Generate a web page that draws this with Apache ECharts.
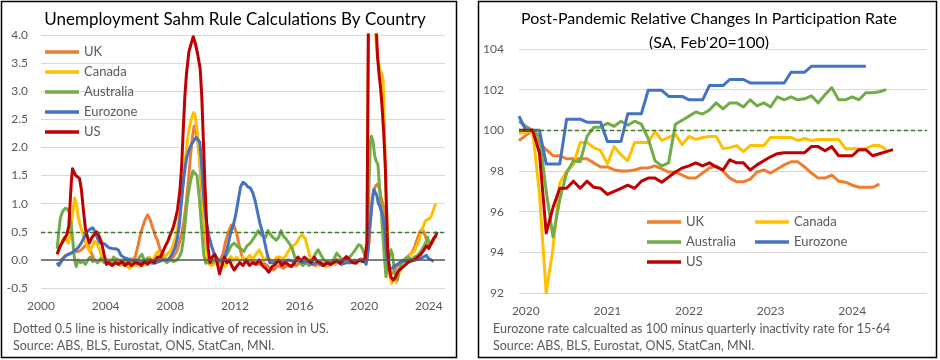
<!DOCTYPE html>
<html><head><meta charset="utf-8">
<script src="https://cdn.jsdelivr.net/npm/echarts@6/dist/echarts.min.js"></script>
<style>html,body{margin:0;padding:0;background:#fff}#c{width:940px;height:360px}</style>
</head><body><div id="c"></div>
<script>
// ---------- Left panel: Sahm rule values, [decimal year, value] ----------
const sahmUK = [[2001.0,-0.05],[2001.15,-0.08],[2001.3,0.02],[2001.5,0.07],[2001.7,0.1],[2001.9,0.12],[2002.1,0.15],[2002.3,0.15],[2002.5,0.18],[2002.7,0.24],[2002.85,0.3],[2003.0,0.2],[2003.15,0.1],[2003.3,0.0],[2003.5,-0.05],[2003.7,0.0],[2003.9,-0.03],[2004.1,-0.05],[2004.3,0.0],[2004.5,-0.05],[2004.7,0.02],[2004.9,-0.05],[2005.1,0.0],[2005.3,-0.03],[2005.5,0.02],[2005.7,0.0],[2005.85,0.07],[2006.0,0.25],[2006.15,0.45],[2006.3,0.6],[2006.45,0.72],[2006.6,0.8],[2006.75,0.72],[2006.9,0.58],[2007.05,0.45],[2007.2,0.35],[2007.35,0.2],[2007.5,0.08],[2007.65,0.03],[2007.8,0.0],[2008.0,0.0],[2008.2,0.06],[2008.4,0.15],[2008.55,0.3],[2008.7,0.45],[2008.85,0.7],[2009.0,1.05],[2009.12,1.4],[2009.25,1.85],[2009.38,2.2],[2009.48,2.38],[2009.58,2.3],[2009.7,2.1],[2009.8,1.85],[2009.9,1.4],[2010.0,1.0],[2010.1,0.65],[2010.2,0.3],[2010.35,0.05],[2010.5,-0.05],[2010.7,-0.02],[2010.9,0.0],[2011.1,0.0],[2011.25,0.1],[2011.4,0.3],[2011.6,0.5],[2011.78,0.62],[2011.95,0.6],[2012.1,0.48],[2012.25,0.28],[2012.4,0.1],[2012.55,0.0],[2012.75,-0.05],[2013.0,0.0],[2013.25,-0.05],[2013.5,-0.08],[2013.75,-0.05],[2014.0,-0.1],[2014.2,-0.15],[2014.4,-0.18],[2014.6,-0.12],[2014.8,-0.1],[2015.0,-0.15],[2015.2,-0.1],[2015.4,-0.12],[2015.6,-0.08],[2015.8,-0.1],[2016.0,-0.05],[2016.2,-0.08],[2016.4,-0.03],[2016.6,-0.05],[2016.8,-0.08],[2017.0,-0.1],[2017.2,-0.05],[2017.4,-0.1],[2017.6,-0.08],[2017.8,-0.05],[2018.0,-0.08],[2018.2,-0.03],[2018.4,-0.05],[2018.6,-0.02],[2018.8,-0.05],[2019.0,0.0],[2019.2,-0.03],[2019.4,0.0],[2019.6,-0.02],[2019.8,0.02],[2020.0,0.0],[2020.15,-0.02],[2020.3,0.3],[2020.4,0.75],[2020.5,1.1],[2020.6,1.25],[2020.72,1.32],[2020.85,1.35],[2020.95,1.25],[2021.05,1.1],[2021.15,1.0],[2021.25,0.9],[2021.33,0.55],[2021.42,0.15],[2021.5,-0.08],[2021.6,-0.18],[2021.75,-0.24],[2021.9,-0.18],[2022.05,-0.1],[2022.25,-0.02],[2022.45,0.0],[2022.65,0.05],[2022.85,0.1],[2023.0,0.15],[2023.15,0.25],[2023.3,0.38],[2023.45,0.5],[2023.6,0.55],[2023.75,0.45],[2023.9,0.32],[2024.05,0.25],[2024.2,0.3],[2024.33,0.38]];
const sahmCanada = [[2001.0,0.1],[2001.15,0.22],[2001.3,0.33],[2001.45,0.4],[2001.6,0.35],[2001.7,0.3],[2001.8,0.45],[2001.9,0.7],[2002.0,0.92],[2002.08,1.1],[2002.18,1.02],[2002.28,0.8],[2002.42,0.62],[2002.55,0.5],[2002.7,0.36],[2002.85,0.24],[2003.0,0.15],[2003.15,0.22],[2003.3,0.33],[2003.45,0.3],[2003.6,0.2],[2003.75,0.07],[2003.9,0.0],[2004.1,-0.05],[2004.3,0.0],[2004.5,-0.08],[2004.7,-0.03],[2004.9,-0.1],[2005.1,-0.05],[2005.3,-0.1],[2005.5,-0.15],[2005.7,-0.08],[2005.9,-0.1],[2006.1,-0.05],[2006.3,-0.1],[2006.5,-0.05],[2006.7,0.05],[2006.9,-0.03],[2007.1,0.1],[2007.25,0.15],[2007.4,0.05],[2007.55,0.1],[2007.7,0.05],[2007.85,0.12],[2008.0,0.15],[2008.15,0.25],[2008.3,0.38],[2008.45,0.55],[2008.6,0.85],[2008.75,1.25],[2008.9,1.7],[2009.05,2.1],[2009.2,2.38],[2009.35,2.55],[2009.45,2.62],[2009.55,2.55],[2009.65,2.32],[2009.8,1.85],[2009.95,1.35],[2010.05,0.9],[2010.2,0.45],[2010.3,0.05],[2010.4,-0.08],[2010.6,-0.1],[2010.8,-0.05],[2011.0,-0.1],[2011.2,-0.05],[2011.4,-0.12],[2011.6,0.0],[2011.75,0.06],[2011.9,-0.02],[2012.1,0.05],[2012.3,-0.05],[2012.5,0.05],[2012.7,0.0],[2012.9,0.08],[2013.1,0.02],[2013.3,0.1],[2013.5,0.18],[2013.65,0.1],[2013.8,-0.02],[2014.0,0.05],[2014.2,0.0],[2014.4,-0.03],[2014.6,0.05],[2014.8,0.05],[2015.0,0.02],[2015.2,0.1],[2015.4,0.2],[2015.6,0.25],[2015.8,0.3],[2015.95,0.38],[2016.15,0.45],[2016.35,0.38],[2016.5,0.22],[2016.65,0.05],[2016.8,-0.08],[2017.0,-0.02],[2017.2,-0.1],[2017.4,-0.05],[2017.6,-0.12],[2017.8,-0.1],[2018.0,-0.05],[2018.2,-0.08],[2018.4,-0.02],[2018.6,-0.08],[2018.8,-0.03],[2019.0,-0.05],[2019.2,0.0],[2019.4,-0.05],[2019.6,-0.03],[2019.8,0.0],[2020.0,-0.03],[2020.1,0.05],[2020.17,0.5],[2020.25,3.3],[2020.33,5.9],[2020.42,7.5],[2020.5,6.8],[2020.58,5.7],[2020.67,4.2],[2020.75,3.8],[2020.83,3.6],[2020.92,3.45],[2021.0,3.35],[2021.1,3.3],[2021.17,3.2],[2021.23,2.6],[2021.3,1.8],[2021.38,0.9],[2021.45,0.3],[2021.52,-0.05],[2021.6,-0.3],[2021.7,-0.42],[2021.8,-0.35],[2021.9,-0.3],[2022.0,-0.4],[2022.08,-0.42],[2022.2,-0.2],[2022.35,-0.08],[2022.5,-0.05],[2022.65,0.0],[2022.8,0.06],[2022.95,0.12],[2023.1,0.15],[2023.25,0.25],[2023.4,0.35],[2023.55,0.5],[2023.65,0.6],[2023.8,0.7],[2023.95,0.72],[2024.1,0.75],[2024.2,0.82],[2024.3,0.9],[2024.42,1.0]];
const sahmAustralia = [[2001.0,0.2],[2001.1,0.5],[2001.2,0.75],[2001.35,0.87],[2001.5,0.92],[2001.65,0.9],[2001.78,0.82],[2001.88,0.6],[2001.98,0.3],[2002.08,0.0],[2002.18,-0.12],[2002.3,0.0],[2002.45,-0.05],[2002.6,-0.03],[2002.75,-0.08],[2002.9,0.0],[2003.05,0.05],[2003.2,-0.03],[2003.35,0.0],[2003.5,-0.05],[2003.7,0.03],[2003.9,-0.05],[2004.1,0.0],[2004.3,-0.08],[2004.5,0.05],[2004.7,-0.05],[2004.9,0.0],[2005.1,-0.08],[2005.3,0.03],[2005.5,-0.05],[2005.7,0.0],[2005.9,-0.05],[2006.1,0.05],[2006.25,0.1],[2006.4,-0.02],[2006.6,0.03],[2006.8,-0.05],[2007.0,0.0],[2007.2,-0.03],[2007.4,0.05],[2007.6,0.0],[2007.8,-0.05],[2008.0,0.0],[2008.2,-0.03],[2008.4,0.0],[2008.55,0.05],[2008.7,0.15],[2008.8,0.35],[2008.9,0.6],[2009.0,0.9],[2009.1,1.15],[2009.25,1.4],[2009.4,1.58],[2009.52,1.61],[2009.65,1.5],[2009.78,1.15],[2009.88,0.8],[2009.98,0.42],[2010.08,0.08],[2010.2,-0.06],[2010.4,0.02],[2010.6,-0.05],[2010.8,0.0],[2011.0,-0.05],[2011.2,0.0],[2011.4,0.05],[2011.6,0.15],[2011.75,0.25],[2011.95,0.3],[2012.15,0.24],[2012.35,0.2],[2012.55,0.15],[2012.75,0.25],[2012.95,0.3],[2013.15,0.38],[2013.3,0.45],[2013.45,0.52],[2013.6,0.45],[2013.75,0.42],[2013.9,0.4],[2014.05,0.52],[2014.2,0.45],[2014.35,0.4],[2014.55,0.35],[2014.7,0.4],[2014.85,0.52],[2015.0,0.42],[2015.15,0.38],[2015.35,0.3],[2015.55,0.2],[2015.7,0.05],[2015.85,0.0],[2016.0,-0.05],[2016.2,-0.1],[2016.4,-0.05],[2016.6,-0.1],[2016.8,-0.02],[2017.0,0.12],[2017.15,0.18],[2017.3,0.1],[2017.5,0.0],[2017.7,-0.05],[2017.9,-0.08],[2018.1,0.0],[2018.3,0.12],[2018.5,0.05],[2018.7,-0.03],[2018.9,0.0],[2019.1,0.05],[2019.3,0.12],[2019.5,0.2],[2019.65,0.27],[2019.8,0.25],[2019.95,0.15],[2020.1,0.02],[2020.2,0.3],[2020.3,1.4],[2020.38,2.1],[2020.45,2.2],[2020.55,2.1],[2020.65,1.85],[2020.75,1.75],[2020.85,1.7],[2020.95,1.3],[2021.05,0.9],[2021.15,0.45],[2021.25,0.05],[2021.35,-0.3],[2021.45,-0.1],[2021.55,0.05],[2021.65,0.18],[2021.75,0.1],[2021.85,-0.15],[2021.95,-0.3],[2022.05,-0.35],[2022.15,-0.2],[2022.3,-0.05],[2022.5,0.0],[2022.7,0.05],[2022.9,0.0],[2023.1,0.05],[2023.3,0.08],[2023.5,0.15],[2023.65,0.22],[2023.8,0.3],[2023.92,0.4],[2024.05,0.28],[2024.2,0.3],[2024.3,0.38],[2024.42,0.42]];
const sahmEurozone = [[2001.0,-0.05],[2001.1,-0.1],[2001.25,-0.03],[2001.4,0.03],[2001.55,0.08],[2001.7,0.1],[2001.85,0.12],[2002.0,0.15],[2002.15,0.18],[2002.3,0.22],[2002.45,0.28],[2002.6,0.36],[2002.75,0.45],[2002.9,0.52],[2003.05,0.55],[2003.2,0.57],[2003.35,0.5],[2003.5,0.38],[2003.65,0.3],[2003.8,0.3],[2003.95,0.28],[2004.1,0.24],[2004.25,0.21],[2004.45,0.2],[2004.65,0.2],[2004.8,0.17],[2004.95,0.08],[2005.1,0.05],[2005.3,0.02],[2005.5,0.0],[2005.7,-0.02],[2005.9,0.0],[2006.1,-0.05],[2006.4,-0.03],[2006.7,-0.05],[2007.0,-0.06],[2007.3,-0.03],[2007.6,0.0],[2007.85,0.0],[2008.0,0.05],[2008.15,0.12],[2008.3,0.22],[2008.45,0.4],[2008.55,0.6],[2008.65,0.9],[2008.75,1.2],[2008.85,1.5],[2009.0,1.8],[2009.15,1.95],[2009.3,2.05],[2009.45,2.12],[2009.6,2.18],[2009.72,2.2],[2009.82,2.1],[2009.92,1.8],[2010.0,1.4],[2010.1,1.0],[2010.25,0.65],[2010.4,0.42],[2010.55,0.25],[2010.7,0.12],[2010.85,0.05],[2011.0,0.0],[2011.15,-0.02],[2011.3,0.02],[2011.45,0.12],[2011.6,0.3],[2011.75,0.5],[2011.9,0.62],[2012.05,0.8],[2012.2,1.05],[2012.35,1.3],[2012.5,1.38],[2012.65,1.35],[2012.8,1.3],[2012.95,1.28],[2013.1,1.2],[2013.25,1.05],[2013.4,0.85],[2013.55,0.65],[2013.7,0.5],[2013.85,0.3],[2014.0,0.1],[2014.15,-0.05],[2014.4,-0.05],[2014.7,-0.03],[2015.0,-0.05],[2015.3,0.0],[2015.6,-0.03],[2015.9,0.0],[2016.2,-0.05],[2016.5,-0.03],[2016.8,-0.08],[2017.1,-0.05],[2017.4,-0.1],[2017.7,-0.05],[2018.0,-0.05],[2018.3,-0.03],[2018.6,-0.08],[2018.9,-0.05],[2019.2,-0.05],[2019.5,-0.03],[2019.8,0.0],[2020.0,-0.03],[2020.12,-0.08],[2020.22,0.1],[2020.3,0.5],[2020.4,0.75],[2020.5,1.05],[2020.6,1.25],[2020.68,1.28],[2020.78,1.15],[2020.88,1.0],[2020.98,0.95],[2021.08,0.85],[2021.18,0.75],[2021.28,0.5],[2021.38,0.1],[2021.48,-0.05],[2021.6,-0.15],[2021.75,-0.15],[2021.9,-0.1],[2022.05,-0.08],[2022.3,-0.03],[2022.6,-0.02],[2022.9,0.0],[2023.2,0.0],[2023.45,0.02],[2023.65,0.05],[2023.85,0.08],[2024.0,0.02],[2024.15,0.0],[2024.3,-0.03]];
const sahmUS = [[2001.0,0.1],[2001.15,0.22],[2001.3,0.3],[2001.45,0.38],[2001.6,0.45],[2001.72,0.6],[2001.8,1.0],[2001.88,1.4],[2001.95,1.62],[2002.05,1.6],[2002.15,1.5],[2002.25,1.48],[2002.38,1.45],[2002.5,1.25],[2002.62,0.9],[2002.75,0.55],[2002.9,0.38],[2003.0,0.3],[2003.15,0.4],[2003.3,0.45],[2003.45,0.5],[2003.6,0.42],[2003.75,0.3],[2003.9,0.1],[2004.05,-0.08],[2004.2,-0.05],[2004.4,-0.1],[2004.6,-0.05],[2004.8,-0.08],[2005.0,-0.03],[2005.2,-0.1],[2005.4,-0.05],[2005.6,-0.1],[2005.8,-0.05],[2006.0,-0.06],[2006.2,-0.1],[2006.4,-0.03],[2006.6,-0.08],[2006.8,0.0],[2007.0,-0.05],[2007.2,0.05],[2007.4,0.05],[2007.55,0.15],[2007.7,0.25],[2007.85,0.33],[2008.0,0.45],[2008.15,0.55],[2008.3,0.7],[2008.45,0.9],[2008.6,1.25],[2008.7,1.65],[2008.8,2.3],[2008.9,2.9],[2009.0,3.3],[2009.15,3.7],[2009.3,3.85],[2009.42,3.97],[2009.55,3.85],[2009.7,3.65],[2009.85,3.4],[2009.95,2.9],[2010.05,2.1],[2010.15,1.3],[2010.25,0.65],[2010.35,0.2],[2010.45,-0.05],[2010.6,0.05],[2010.75,0.1],[2010.9,-0.05],[2011.05,-0.25],[2011.2,-0.1],[2011.35,0.05],[2011.5,-0.05],[2011.65,0.0],[2011.8,-0.1],[2011.95,-0.18],[2012.1,-0.12],[2012.3,-0.05],[2012.5,-0.1],[2012.7,0.0],[2012.9,-0.1],[2013.1,-0.05],[2013.3,-0.08],[2013.5,0.0],[2013.7,-0.1],[2013.9,-0.15],[2014.1,-0.22],[2014.3,-0.12],[2014.5,-0.08],[2014.7,0.0],[2014.9,-0.1],[2015.1,-0.05],[2015.3,-0.08],[2015.5,-0.12],[2015.7,-0.05],[2015.9,0.05],[2016.1,-0.02],[2016.3,0.05],[2016.5,0.0],[2016.7,-0.05],[2016.9,0.05],[2017.1,-0.03],[2017.3,-0.05],[2017.5,-0.1],[2017.7,-0.05],[2017.9,-0.08],[2018.1,-0.05],[2018.3,0.0],[2018.5,-0.06],[2018.7,0.0],[2018.9,0.06],[2019.1,0.0],[2019.3,-0.05],[2019.5,-0.06],[2019.7,0.0],[2019.9,-0.03],[2020.05,0.03],[2020.17,0.3],[2020.25,3.9],[2020.33,7.2],[2020.42,9.4],[2020.5,7.9],[2020.58,6.3],[2020.67,5.2],[2020.75,4.1],[2020.83,3.6],[2020.92,3.3],[2021.0,3.1],[2021.1,2.75],[2021.2,2.3],[2021.3,1.7],[2021.38,0.9],[2021.45,0.2],[2021.55,-0.15],[2021.65,-0.3],[2021.8,-0.36],[2021.95,-0.3],[2022.1,-0.2],[2022.3,-0.15],[2022.5,-0.1],[2022.7,-0.05],[2022.9,-0.02],[2023.1,0.0],[2023.3,0.05],[2023.5,0.1],[2023.7,0.18],[2023.85,0.25],[2024.0,0.2],[2024.15,0.3],[2024.3,0.38],[2024.42,0.42],[2024.5,0.5]];
const sahmYearTicks = [2000, 2004, 2008, 2012, 2016, 2020, 2024];

// ---------- Right panel: participation index (Feb'20=100), monthly from Dec 2019 ----------
const partStartYear = 2019, partStartMonth = 12;
const partUK = [99.5,99.75,100,99.35,99.05,98.75,98.75,98.6,98.6,98.6,98.6,98.4,98.2,98.2,98.05,98.0,98.0,98.05,98.15,98.15,98.25,98.1,97.95,97.95,97.8,97.65,97.65,97.9,98.15,98.25,98.0,97.65,97.47,97.47,97.6,97.95,98.05,97.9,98.1,98.3,98.45,98.45,98.2,97.9,97.65,97.65,97.8,97.5,97.45,97.3,97.2,97.2,97.2,97.35];
const partCanada = [99.85,99.9,100,96.9,92.0,94.2,97.4,98.0,98.3,99.4,99.4,99.15,99.0,98.35,99.2,98.8,98.5,99.4,99.4,99.4,99.95,99.5,99.65,99.8,99.3,99.7,99.55,99.65,99.7,99.7,99.1,99.15,99.25,98.95,99.25,99.25,99.25,99.65,99.65,99.65,99.65,99.5,99.6,99.5,99.55,99.55,99.55,99.55,99.1,99.1,99.1,99.1,99.25,99.25,99.05];
const partAustralia = [100.45,100.2,100,99.7,97.0,94.75,96.6,97.9,98.5,98.45,99.7,100.15,100.15,100.35,100.2,100.45,100.25,100.45,100.3,99.6,98.5,98.25,98.4,100.3,100.5,100.7,100.9,100.8,101.0,101.35,101.05,101.35,101.35,101.15,101.5,101.2,101.35,101.15,101.65,101.5,101.65,101.5,101.55,101.7,101.35,101.75,102.1,101.5,101.5,101.65,101.5,101.85,101.85,101.9,102.0];
const partEurozone = [100.7,100,100,100,98.35,98.35,98.35,100.55,100.55,100.55,100.4,100.4,100.4,99.45,99.45,99.45,100.82,100.82,100.82,101.97,101.97,101.97,101.67,101.67,101.67,101.5,101.5,101.5,102.2,102.2,102.2,102.5,102.5,102.5,102.33,102.33,102.33,102.33,102.33,102.33,102.86,102.86,102.86,103.15,103.15,103.15,103.15,103.15,103.15,103.15,103.15,103.15];
const partUS = [100,100,100,98.9,94.95,96.2,97.15,97.15,97.5,97.15,97.5,97.2,97.15,96.85,97.0,97.15,97.3,97.15,97.5,97.65,97.65,97.45,97.7,97.95,98.15,98.25,98.4,98.25,98.4,98.2,98.05,98.55,98.4,98.4,98.05,98.3,98.5,98.7,98.85,98.9,98.9,98.9,98.9,99.2,99.2,99.0,99.2,98.75,98.75,98.75,99.05,99.05,98.75,98.85,98.95,99.05];
const partYearTicks = [2020, 2021, 2022, 2023, 2024];

const names = ['UK','Canada','Australia','Eurozone','US'];
const colors = {UK:'#ED7D31', Canada:'#FFC000', Australia:'#70AD47', Eurozone:'#4472C4', US:'#C00000'};

const FONT = 'Lato, "Open Sans", sans-serif';
const GREY = '#595959';

function monthly(arr){
  const t0 = partStartYear + (partStartMonth - 1) / 12;
  return arr.map((v, i) => [t0 + i / 12, v]);
}

const leftData = {UK:sahmUK, Canada:sahmCanada, Australia:sahmAustralia, Eurozone:sahmEurozone, US:sahmUS};
const rightData = {UK:monthly(partUK), Canada:monthly(partCanada), Australia:monthly(partAustralia), Eurozone:monthly(partEurozone), US:monthly(partUS)};

function mkSeries(name, data, idx, extra){
  return Object.assign({
    name, type:'line', data, xAxisIndex:idx, yAxisIndex:idx,
    showSymbol:false, symbol:'none', clip:true,
    lineStyle:{width:3, color:colors[name], join:'round'},
    itemStyle:{color:colors[name]},
    emphasis:{disabled:true}, animation:false
  }, extra || {});
}

const series = [];
names.forEach((n, i) => {
  const extra = i === 0 ? {markLine:{silent:true, symbol:'none', animation:false, label:{show:false},
    data:[{yAxis:0, lineStyle:{color:GREY, width:1.5, type:'solid'}},
          {yAxis:0.5, lineStyle:{color:'#3B7D23', width:1.3, type:[4,3]}}]}} : null;
  series.push(mkSeries(n, leftData[n], 0, extra));
});
names.forEach((n, i) => {
  const extra = i === 0 ? {markLine:{silent:true, symbol:'none', animation:false, label:{show:false},
    data:[{yAxis:100, lineStyle:{color:'#3B7D23', width:1.3, type:[4,3]}}]}} : null;
  series.push(mkSeries(n, rightData[n], 1, extra));
});

const legendText = {color:GREY, fontSize:13, fontFamily:FONT, lineHeight:14};
const legendBase = {icon:'rect', itemWidth:34, itemHeight:3.5, itemGap:6, textStyle:legendText,
                    selectedMode:false, padding:0, itemStyle:{borderWidth:0}};
function oneLegend(name, left, top){
  return Object.assign({}, legendBase, {data:[name], left, top});
}

const option = {
  animation:false,
  backgroundColor:'#fff',
  textStyle:{fontFamily:FONT},
  grid:[
    {left:41, top:35, width:404, height:253},
    {left:519, top:49, width:408, height:244}
  ],
  xAxis:[
    {type:'value', gridIndex:0, min:2000, max:2025,
     axisLine:{show:false}, axisTick:{show:false}, splitLine:{show:false},
     axisLabel:{customValues:sahmYearTicks, color:GREY, fontSize:12, margin:12, fontFamily:FONT, formatter:v => String(Math.round(v))}},
    {type:'value', gridIndex:1, min:partStartYear + (partStartMonth-1)/12, max:2024 + 11/12,
     axisLine:{show:false}, axisTick:{show:false}, splitLine:{show:false},
     axisLabel:{customValues:partYearTicks, color:GREY, fontSize:12, margin:12, fontFamily:FONT, formatter:v => String(Math.round(v))}}
  ],
  yAxis:[
    {type:'value', gridIndex:0, min:-0.5, max:4, interval:0.5,
     axisLine:{show:false}, axisTick:{show:false},
     splitLine:{lineStyle:{color:'#D9D9D9', width:1}},
     axisLabel:{color:GREY, fontSize:12, margin:13, fontFamily:FONT, formatter:v => v.toFixed(1)}},
    {type:'value', gridIndex:1, min:92, max:104, interval:2,
     axisLine:{show:false}, axisTick:{show:false},
     splitLine:{lineStyle:{color:'#D9D9D9', width:1}},
     axisLabel:{color:GREY, fontSize:12, margin:15, fontFamily:FONT}}
  ],
  legend:[
    Object.assign({}, legendBase, {data:names, orient:'vertical', left:45, top:45}),
    oneLegend('UK', 647, 215), oneLegend('Canada', 755, 215),
    oneLegend('Australia', 647, 235), oneLegend('Eurozone', 755, 235),
    oneLegend('US', 647, 255)
  ],
  graphic:[
    {type:'rect', shape:{x:1.5, y:1.5, width:455, height:356}, style:{fill:'none', stroke:'#000', lineWidth:1.5}, silent:true},
    {type:'rect', shape:{x:478.5, y:1.5, width:458, height:356}, style:{fill:'none', stroke:'#000', lineWidth:1.5}, silent:true},
    {type:'text', x:235, y:20, style:{text:'Unemployment Sahm Rule Calculations By Country', fill:'#000', fontSize:17, fontFamily:FONT, align:'center', verticalAlign:'middle'}, silent:true},
    {type:'text', x:709, y:19, style:{text:'Post-Pandemic Relative Changes In Participation Rate', fill:'#000', fontSize:16, fontFamily:FONT, align:'center', verticalAlign:'middle'}, silent:true},
    {type:'text', x:709, y:43, style:{text:"(SA, Feb'20=100)", fill:'#000', fontSize:16, fontFamily:FONT, align:'center', verticalAlign:'middle'}, silent:true},
    {type:'text', x:13, y:329, style:{text:'Dotted 0.5 line is historically indicative of recession in US.', fill:GREY, fontSize:12.5, fontFamily:FONT, align:'left', verticalAlign:'middle'}, silent:true},
    {type:'text', x:13, y:346, style:{text:'Source: ABS, BLS, Eurostat, ONS, StatCan, MNI.', fill:GREY, fontSize:12.5, fontFamily:FONT, align:'left', verticalAlign:'middle'}, silent:true},
    {type:'text', x:493, y:329, style:{text:'Eurozone rate calcualted as 100 minus quarterly inactivity rate for 15-64', fill:GREY, fontSize:12.5, fontFamily:FONT, align:'left', verticalAlign:'middle'}, silent:true},
    {type:'text', x:493, y:346, style:{text:'Source: ABS, BLS, Eurostat, ONS, StatCan, MNI.', fill:GREY, fontSize:12.5, fontFamily:FONT, align:'left', verticalAlign:'middle'}, silent:true}
  ],
  series
};

const chart = echarts.init(document.getElementById('c'), null, {renderer:'canvas'});
chart.setOption(option);
</script></body></html>
